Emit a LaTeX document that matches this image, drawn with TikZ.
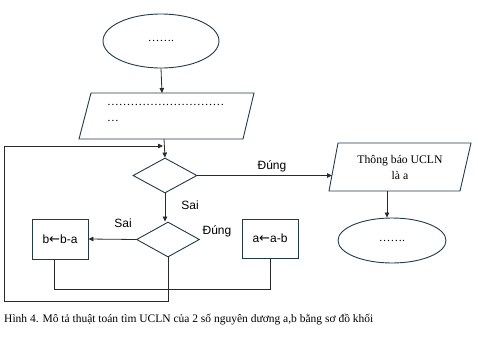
\documentclass[tikz,border=0pt]{standalone}
\usepackage{fontspec}
\setmainfont{Liberation Serif}
\newfontfamily\sansf{Liberation Sans}
\newfontfamily\arrf{DejaVu Sans}
\usetikzlibrary{shapes.geometric,arrows.meta}
\definecolor{outl}{HTML}{1F3B4D}
\definecolor{conncol}{HTML}{2A2A2A}
\begin{document}
\begin{tikzpicture}[x=1pt,y=-1pt,
  shp/.style={draw=outl, line width=0.9pt},
  ell/.style={shp, ellipse, inner sep=0pt},
  boxn/.style={shp, rectangle, inner sep=0pt, font=\sansf\fontsize{12}{14}\selectfont},
  dia/.style={shp, diamond, inner sep=0pt},
  conn/.style={draw=conncol, line width=0.8pt},
  arr/.style={conn, -{Triangle[length=5pt,width=4.5pt]}},
  lbl/.style={font=\sansf\fontsize{12}{14}\selectfont, inner sep=0pt},
  txt/.style={font=\fontsize{11.7}{16}\selectfont, inner sep=0pt}
]
\useasboundingbox (0,0) rectangle (478,340);
% start
\node[ell, minimum width=116pt, minimum height=54pt, txt] (start) at (161,41) {……. };
% input parallelogram
\draw[shp] (91,93) -- (254,93) -- (243,139) -- (79,139) -- cycle;
\coordinate (inpT) at (162,93);
\coordinate (inpB) at (164,139);
\node[txt, anchor=north west, align=left] (inptxt) at (107,104) {…………………………\\…};
% decision 1
\node[dia, minimum width=64pt, minimum height=35pt] (d1) at (165,175.5) {};
% output parallelogram
\draw[shp] (338,143) -- (471,143) -- (460,191) -- (329,191) -- cycle;
\node[txt, align=center] (outtxt) at (400,167) {Thông báo UCLN\\là a};
\coordinate (outL) at (332,175.5);
\coordinate (outB) at (387,191);
% end
\node[ell, minimum width=108pt, minimum height=45pt, txt] (stop) at (392,240.5) {……. };
% decision 2
\node[dia, minimum width=63pt, minimum height=35pt] (d2) at (168,239.5) {};
% boxes
\node[boxn, minimum width=56pt, minimum height=40pt] (bba) at (60,239) {b{\arrf\fontsize{13}{14}\selectfont ←}b-a};
\node[boxn, minimum width=56pt, minimum height=39pt] (aab) at (270,238.5) {a{\arrf\fontsize{13}{14}\selectfont ←}a-b};
% connectors
\draw[arr] (start.south) -- (inpT);
\draw[arr] (inpB) -- (d1.north);
\draw[arr] (d1.east) -- (outL);
\draw[arr] (outB) -- (outB |- stop.north);
\draw[arr] (d1.south) -- (d1.south |- d2.north);
\draw[arr] (d2.west) -- (bba.east);
\draw[conn] ([xshift=-6pt]bba.south) -- ++(0,30) -| (aab.south);
\coordinate (loopC) at (4,301);
\coordinate (loopEnd) at (163,146);
\draw[arr] (d2.south) |- (loopC) |- (loopEnd);
% labels
\node[lbl] (l1) at (272,166) {Đúng};
\node[lbl] (l2) at (190,205) {Sai};
\node[lbl] (l3) at (123,223) {Sai};
\node[lbl] (l4) at (217,231) {Đúng};
% caption
\node[anchor=west, inner sep=0pt, font=\fontsize{11.5}{14}\selectfont] (cap) at (4,320) {Hình 4. Mô tả thuật toán tìm UCLN của 2 số nguyên dương a,b bằng sơ đồ khối};
\end{tikzpicture}
\end{document}
